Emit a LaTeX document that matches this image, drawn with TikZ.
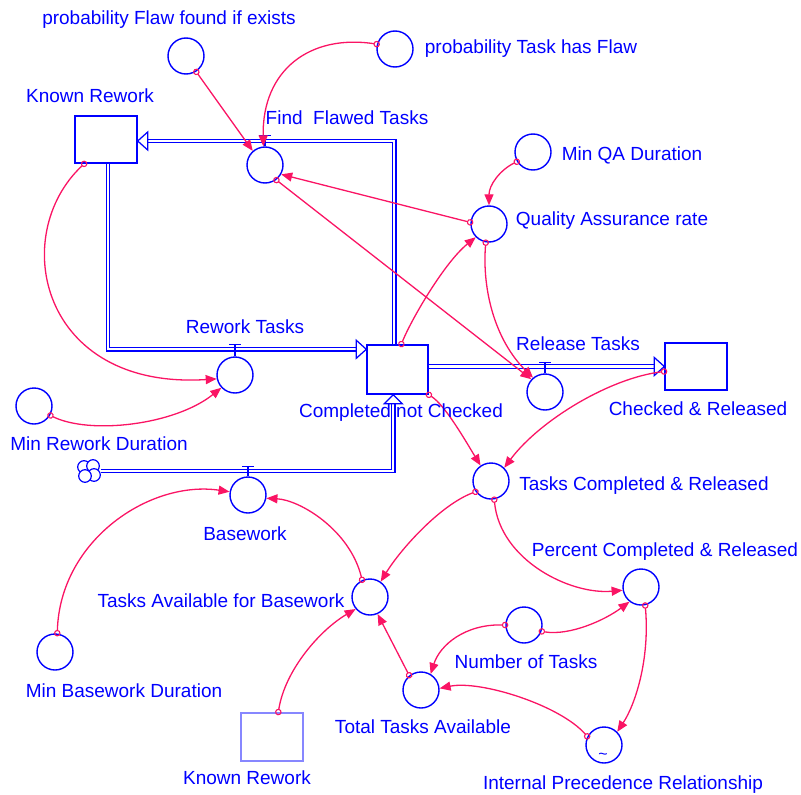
\documentclass[tikz,border=0pt]{standalone}
\usepackage{fontspec}
\setmainfont{Liberation Sans}
\usetikzlibrary{arrows.meta,calc}
\definecolor{vblue}{RGB}{0,0,255}
\definecolor{vpink}{RGB}{250,20,100}
\definecolor{vghost}{RGB}{135,135,255}
\begin{document}
\begin{tikzpicture}[x=1pt,y=-1pt,
  lbl/.style={text=vblue, font=\fontsize{19}{22}\selectfont, anchor=base, inner sep=0pt},
  aux/.style={circle, draw=vblue, line width=1.4pt, minimum size=36pt, inner sep=0pt},
  stock/.style={rectangle, draw=vblue, line width=1.4pt, minimum width=62pt, minimum height=47pt, inner sep=0pt},
  ghost/.style={rectangle, draw=vghost, line width=1.4pt, minimum width=62pt, minimum height=48pt, inner sep=0pt},
  pipe/.style={draw=vblue, double=white, double distance=2.2pt, line width=1.25pt},
  flowhead/.style={draw=vblue, fill=white, line width=1.25pt, line join=miter},
  valvestem/.style={draw=vblue, line width=1.3pt},
  conn/.style={draw=vpink, line width=1.3pt, shorten <=-3pt,
    {Circle[open,length=6.5pt,width=6.5pt,line width=1.1pt]}-{Triangle[length=11pt,width=9pt]}},
]
\useasboundingbox (0,0) rectangle (801,795);

% ---------- stocks ----------
\node[stock] (kr)  at (106,139.5) {};
\node[stock, minimum width=61pt, minimum height=49pt] (cnc) at (397.5,369.5) {};
\node[stock] (chr) at (696,366.5) {};
\node[ghost] (krg) at (272,737) {};

% ---------- source cloud ----------
\node[minimum size=24pt, inner sep=0pt] (cloud) at (89,471) {};
\foreach \dx/\dy in {-5/-4, 4/-5, 5/4, -4/5}
  \draw[vblue, line width=1.2pt, fill=white] ($(cloud.center)+(\dx,\dy)$) circle (6.3);

% ---------- valves and auxiliaries ----------
\node[aux] (fft) at (265,165) {};
\node[aux] (rwt) at (235,375) {};
\node[aux] (rel) at (545,392) {};
\node[aux] (bw)  at (248,495) {};

\node[aux] (pff) at (186,56) {};
\node[aux] (pth) at (395,49) {};
\node[aux] (mqa) at (533,152) {};
\node[aux] (qar) at (489,224) {};
\node[aux] (mrd) at (34,406) {};
\node[aux] (tcr) at (491,481) {};
\node[aux] (pcr) at (641,587) {};
\node[aux] (tab) at (370,597) {};
\node[aux] (mbd) at (55,652) {};
\node[aux] (not) at (524,625) {};
\node[aux] (tta) at (421,690) {};
\node[aux] (ipr) at (604,745) {};
\node[text=vblue, font=\fontsize{16}{16}\selectfont, inner sep=0pt] (iprt) at (603,756) {\~{}};

% ---------- flow pipes ----------
% Find Flawed Tasks: Completed not Checked -> Known Rework
\draw[pipe] ($(cnc.north west)+(28,0)$) |- ($(kr.east)+(10,1.5)$);
\draw[flowhead] ($(kr.east)+(0,1.5)$) -- ++(10,-9) -- ++(0,18) -- cycle;
% Rework Tasks: Known Rework -> Completed not Checked
\draw[pipe] ($(kr.south)+(2,0)$) |- ($(cnc.north west)+(-10,5)$);
\draw[flowhead] ($(cnc.north west)+(0,5)$) -- ++(-10,-9) -- ++(0,18) -- cycle;
% Release Tasks: Completed not Checked -> Checked & Released
\draw[pipe] (cnc.east |- chr.west) -- ($(chr.west)+(-10,0)$);
\draw[flowhead] (chr.west) -- ++(-10,-9) -- ++(0,18) -- cycle;
% Basework: cloud -> Completed not Checked
\draw[pipe] (cloud.east) -| ($(cnc.south west)+(27,9)$);
\draw[flowhead] ($(cnc.south west)+(27,0)$) -- ++(-9,9) -- ++(18,0) -- cycle;

% valve handles
\foreach \v/\h in {fft/11, rwt/12, rel/11, bw/10} {
  \draw[valvestem] (\v.north) -- ++(0,-\h) coordinate (\v T);
  \draw[valvestem] ($(\v T)+(-6,0)$) -- ($(\v T)+(6,0)$);
}

% ---------- connectors ----------
\draw[conn] (pff.303) -- (fft.131);
\draw[conn] (pth.165) .. controls (310,34) and (262,70) .. (fft.95);
\draw[conn] (qar.175) -- (fft.330);
\draw[conn] (fft.307) -- (rel.137);
\draw[conn] (mqa.211) .. controls (500,170) and (489,185) .. (qar.90);
\draw[conn] ($(cnc.north west)+(35,0)$) .. controls (412,318) and (445,262) .. (qar.225);
\draw[conn] (qar.260) .. controls (482,290) and (495,340) .. (rel.130);
\draw[conn] ($(kr.south west)+(10,0)$) .. controls (8,235) and (40,390) .. (rwt.192);
\draw[conn] (mrd.330) .. controls (90,435) and (175,425) .. (rwt.223);
\draw[conn] (cnc.south east) .. controls (445,405) and (465,440) .. (tcr.124);
\draw[conn] ($(chr.west)+(0,5)$) .. controls (610,378) and (540,420) .. (tcr.45);
\draw[conn] (tcr.215) .. controls (440,505) and (400,550) .. (tab.55);
\draw[conn] (tcr.280) .. controls (500,560) and (570,595) .. (pcr.190);
\draw[conn] (tab.115) .. controls (350,530) and (300,500) .. (bw.350);
\draw[conn] (mbd.83) .. controls (60,540) and (150,480) .. (bw.170);
\draw[conn] ($(krg.north west)+(38,0)$) .. controls (285,670) and (320,630) .. (tab.220);
\draw[conn] (tta.129) -- (tab.294);
\draw[conn] (not.180) .. controls (465,624) and (440,645) .. (tta.59);
\draw[conn] (not.340) .. controls (570,636) and (605,620) .. (pcr.232);
\draw[conn] (pcr.283) .. controls (650,660) and (635,705) .. (ipr.45);
\draw[conn] (ipr.153) .. controls (560,705) and (480,680) .. (tta.5);

% ---------- labels ----------
\node[lbl] (l-pff) at (169,24)  {probability Flaw found if exists};
\node[lbl] (l-pth) at (531,53)  {probability Task has Flaw};
\node[lbl] (l-kr)  at (90,102)  {Known Rework};
\node[lbl] (l-fft) at (347,124) {Find\ \ Flawed Tasks};
\node[lbl] (l-mqa) at (632,160) {Min QA Duration};
\node[lbl] (l-qar) at (612,225) {Quality Assurance rate};
\node[lbl] (l-rwt) at (245,333) {Rework Tasks};
\node[lbl] (l-rel) at (578,350) {Release Tasks};
\node[lbl] (l-cnc) at (401,417) {Completed not Checked};
\node[lbl] (l-chr) at (698,415) {Checked \& Released};
\node[lbl] (l-mrd) at (99,450)  {Min Rework Duration};
\node[lbl] (l-tcr) at (644,490) {Tasks Completed \& Released};
\node[lbl] (l-bw)  at (245,540) {Basework};
\node[lbl] (l-pcr) at (665,556) {Percent Completed \& Released};
\node[lbl] (l-tab) at (221,607) {Tasks Available for Basework};
\node[lbl] (l-not) at (526,668) {Number of Tasks};
\node[lbl] (l-mbd) at (124,697) {Min Basework Duration};
\node[lbl] (l-tta) at (423,733) {Total Tasks Available};
\node[lbl] (l-krg) at (247,784) {Known Rework};
\node[lbl] (l-ipr) at (623,789) {Internal Precedence Relationship};
\end{tikzpicture}
\end{document}
